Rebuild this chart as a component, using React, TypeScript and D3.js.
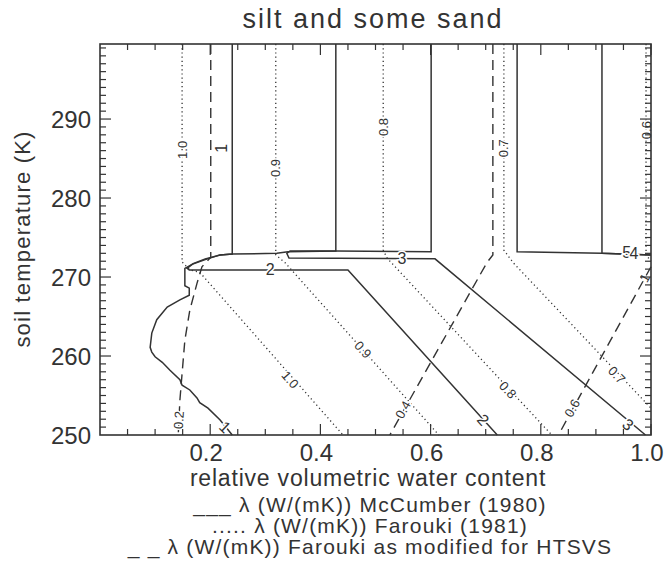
import React, { useRef, useEffect } from "react";
import * as d3 from "d3";

type Pt = [number, number];

const chartTitle = "silt and some sand";
const xTitle = "relative volumetric water content";
const yTitle = "soil temperature (K)";
const legendLines = [
  "___ λ (W/(mK)) McCumber (1980)",
  "..... λ (W/(mK)) Farouki (1981)",
  "_ _ λ (W/(mK)) Farouki as modified for HTSVS",
];

const xTicks = [0.2, 0.4, 0.6, 0.8, 1.0];
const yTicks = [250, 260, 270, 280, 290];

// McCumber (1980), solid contours: [water content, temperature K]
const mcCumber1: Pt[] = [
  [0.240, 299.5], [0.240, 272.9], [0.218, 272.8], [0.191, 272.2], [0.167, 271.6], [0.154, 271.1],
  [0.154, 268.9], [0.162, 268.6], [0.162, 267.7], [0.145, 267.1], [0.122, 266.2], [0.103, 264.6],
  [0.094, 262.9], [0.091, 261.1], [0.094, 260.5], [0.100, 259.9], [0.113, 259.2], [0.127, 258.2],
  [0.145, 257.0], [0.149, 256.3], [0.163, 255.7], [0.176, 254.7], [0.181, 254.1], [0.196, 253.4],
  [0.218, 251.9], [0.240, 250.0],
];
const mcCumber2: Pt[] = [
  [0.428, 299.5], [0.428, 273.3], [0.341, 273.2], [0.321, 273.0], [0.240, 272.9], [0.218, 272.8],
  [0.191, 272.3], [0.169, 271.7], [0.158, 271.1], [0.162, 270.9], [0.450, 270.9], [0.721, 250.0],
];
const mcCumber3: Pt[] = [
  [0.601, 299.5], [0.601, 273.2], [0.428, 273.3], [0.345, 273.3], [0.339, 273.0], [0.343, 272.4],
  [0.608, 272.3], [0.990, 250.0],
];
const mcCumber4: Pt[] = [[0.757, 299.5], [0.757, 273.2], [0.911, 273.0], [1.0, 272.8]];
const mcCumber5: Pt[] = [[0.911, 299.5], [0.911, 273.0], [1.0, 272.8]];

// Farouki (1981), dotted contours
const farouki10: Pt[] = [[0.149, 299.5], [0.149, 271.9], [0.163, 270.9], [0.181, 270.6], [0.441, 250.0]];
const farouki09: Pt[] = [[0.319, 299.5], [0.319, 272.8], [0.336, 271.8], [0.615, 250.0]];
const farouki08: Pt[] = [[0.514, 299.5], [0.514, 273.4], [0.521, 272.4], [0.820, 250.0]];
const farouki07: Pt[] = [[0.733, 299.5], [0.733, 273.4], [0.750, 271.8], [1.0, 253.4]];
const farouki06: Pt[] = [[0.991, 299.5], [0.991, 272.8], [1.0, 272.0]];

// Farouki as modified for HTSVS, dashed contours
const htsvs1: Pt[] = [
  [0.201, 299.5], [0.201, 272.5], [0.185, 271.3], [0.176, 269.2], [0.163, 265.8], [0.154, 262.0],
  [0.149, 257.8], [0.145, 254.4], [0.142, 250.0],
];
const htsvs2: Pt[] = [[0.713, 299.5], [0.713, 272.8], [0.702, 271.8], [0.526, 250.0]];
const htsvs3: Pt[] = [[1.0, 271.3], [0.832, 250.0]];

type Label = { text: string; x: number; y: number; angle: number };

const mcLabels: Label[] = [
  { text: "1", x: 0.221, y: 286.3, angle: -90 },
  { text: "2", x: 0.309, y: 270.9, angle: 0 },
  { text: "3", x: 0.548, y: 272.4, angle: 0 },
  { text: "5", x: 0.956, y: 273.1, angle: 0 },
  { text: "4", x: 0.969, y: 273.0, angle: 0 },
  { text: "1", x: 0.227, y: 251.0, angle: 44 },
  { text: "2", x: 0.695, y: 251.9, angle: 48 },
  { text: "3", x: 0.958, y: 251.3, angle: 40 },
];
const faroukiLabels: Label[] = [
  { text: "1.0", x: 0.149, y: 286.1, angle: -90 },
  { text: "0.9", x: 0.319, y: 283.8, angle: -90 },
  { text: "0.8", x: 0.514, y: 289.0, angle: -90 },
  { text: "0.7", x: 0.733, y: 286.3, angle: -90 },
  { text: "0.6", x: 0.991, y: 288.6, angle: -90 },
  { text: "1.0", x: 0.345, y: 257.0, angle: 49 },
  { text: "0.9", x: 0.477, y: 260.8, angle: 48 },
  { text: "0.8", x: 0.740, y: 255.7, angle: 47 },
  { text: "0.7", x: 0.938, y: 257.6, angle: 46 },
];
const htsvsLabels: Label[] = [
  { text: "0.2", x: 0.143, y: 251.9, angle: -87 },
  { text: "0.4", x: 0.550, y: 253.2, angle: -60 },
  { text: "0.6", x: 0.857, y: 253.4, angle: -61 },
  { text: "1", x: 0.989, y: 269.9, angle: -61 },
];

const W = 668;
const H = 572;
const FONT = "'Liberation Sans', Arial, sans-serif";
const INK = "#333";

export default function App() {
  const svgRef = useRef<SVGSVGElement>(null);

  useEffect(() => {
    const svg = d3.select(svgRef.current);
    svg.selectAll("*").remove();

    const left = 100, right = 651, top = 44, bottom = 435;
    const x = d3.scaleLinear().domain([0, 1]).range([left, right]);
    const y = d3.scaleLinear().domain([250, 299.5]).range([bottom, top]);

    const line = d3.line<Pt>().x(d => x(d[0])).y(d => y(d[1]));

    const g = svg.append("g");

    // contours
    const drawSet = (sets: Pt[][], dash: string | null, width: number) => {
      g.append("g").selectAll("path").data(sets).join("path")
        .attr("d", d => line(d))
        .attr("fill", "none")
        .attr("stroke", INK)
        .attr("stroke-width", width)
        .attr("stroke-dasharray", dash);
    };
    drawSet([farouki10, farouki09, farouki08, farouki07, farouki06], "1.2,3", 1.3);
    drawSet([htsvs1, htsvs2, htsvs3], "10,6", 1.4);
    drawSet([mcCumber1, mcCumber2, mcCumber3, mcCumber4, mcCumber5], null, 1.5);

    const drawLabels = (labels: Label[], size: number) => {
      g.append("g").selectAll("text").data(labels).join("text")
        .attr("transform", d => `translate(${x(d.x)},${y(d.y)}) rotate(${d.angle})`)
        .attr("text-anchor", "middle")
        .attr("dominant-baseline", "central")
        .attr("font-family", FONT)
        .attr("font-size", size)
        .attr("fill", INK)
        .attr("stroke", "white")
        .attr("stroke-width", 3)
        .attr("paint-order", "stroke")
        .text(d => d.text);
    };
    drawLabels(faroukiLabels, 13);
    drawLabels(htsvsLabels, 13);
    drawLabels(mcLabels, 16);

    // frame
    g.append("rect")
      .attr("x", left).attr("y", top)
      .attr("width", right - left).attr("height", bottom - top)
      .attr("fill", "none").attr("stroke", INK).attr("stroke-width", 1.6);

    // ticks, inward on all four sides
    const xMinor = d3.range(0.05, 1.0001, 0.05);
    const yMinor = d3.range(251, 300, 1);
    const ax = g.append("g").attr("stroke", INK).attr("stroke-width", 1.2);
    const isMajX = (v: number) => xTicks.some(t => Math.abs(t - v) < 1e-6);
    const isMajY = (v: number) => yTicks.some(t => Math.abs(t - v) < 1e-6);
    xMinor.forEach(v => {
      const len = isMajX(v) ? 11 : 6;
      ax.append("line").attr("x1", x(v)).attr("x2", x(v)).attr("y1", bottom).attr("y2", bottom - len);
      ax.append("line").attr("x1", x(v)).attr("x2", x(v)).attr("y1", top).attr("y2", top + len);
    });
    yMinor.forEach(v => {
      const len = isMajY(v) ? 11 : 6;
      ax.append("line").attr("y1", y(v)).attr("y2", y(v)).attr("x1", left).attr("x2", left + len);
      ax.append("line").attr("y1", y(v)).attr("y2", y(v)).attr("x1", right).attr("x2", right - len);
    });

    // tick labels
    g.append("g").selectAll("text").data(xTicks).join("text")
      .attr("x", d => x(d) - 4).attr("y", 461)
      .attr("text-anchor", "middle")
      .attr("font-family", FONT).attr("font-size", 24).attr("fill", INK)
      .text(d => d3.format(".1f")(d));
    g.append("g").selectAll("text").data(yTicks).join("text")
      .attr("x", 91).attr("y", d => y(d))
      .attr("text-anchor", "end").attr("dominant-baseline", "central")
      .attr("font-family", FONT).attr("font-size", 24).attr("fill", INK)
      .text(d => d);

    // titles
    svg.append("text")
      .attr("x", 373).attr("y", 28)
      .attr("text-anchor", "middle")
      .attr("font-family", FONT).attr("font-size", 27).attr("letter-spacing", 2).attr("fill", INK)
      .text(chartTitle);
    svg.append("text")
      .attr("x", 368).attr("y", 486)
      .attr("text-anchor", "middle")
      .attr("font-family", FONT).attr("font-size", 23).attr("letter-spacing", 0.8).attr("fill", INK)
      .text(xTitle);
    svg.append("text")
      .attr("transform", `translate(30,239) rotate(-90)`)
      .attr("text-anchor", "middle")
      .attr("font-family", FONT).attr("font-size", 22).attr("letter-spacing", 1.2).attr("fill", INK)
      .text(yTitle);

    svg.append("g").selectAll("text").data(legendLines).join("text")
      .attr("x", 370).attr("y", (d, i) => 512 + i * 21)
      .attr("text-anchor", "middle")
      .attr("font-family", FONT).attr("font-size", 21).attr("letter-spacing", 1.2).attr("fill", INK)
      .text(d => d);
  }, []);

  return (
    <svg ref={svgRef} width={W} height={H}
      style={{ position: "absolute", left: 0, top: 0, background: "white" }} />
  );
}
